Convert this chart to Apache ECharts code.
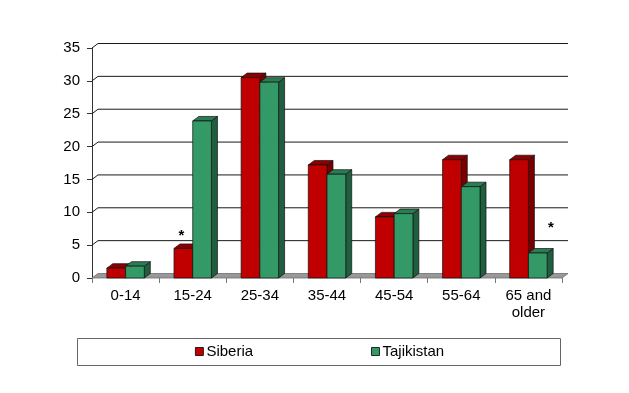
<!DOCTYPE html>
<html>
<head>
<meta charset="utf-8">
<script src="https://cdn.jsdelivr.net/npm/echarts@6/dist/echarts.min.js"></script>
<style>
html,body{margin:0;padding:0;background:#fff;}
#chart{width:629px;height:393px;}
</style>
</head>
<body>
<div id="chart"></div>
<script>
const categories = ['0-14', '15-24', '25-34', '35-44', '45-54', '55-64', '65 and\nolder'];
const siberia = [1.5, 4.5, 30.5, 17.2, 9.3, 18, 18];
const tajikistan = [1.8, 23.9, 29.8, 15.8, 9.8, 13.9, 3.8];
const siberiaNotes = ['', '*', '', '', '', '', ''];
const tajikistanNotes = ['', '', '', '', '', '', '*'];
const yTicks = [0, 5, 10, 15, 20, 25, 30, 35];
const seriesNames = ['Siberia', 'Tajikistan'];

const DX = 6, DY = 4.5;
const FONT = '"Liberation Sans", Arial, sans-serif';

function barRenderer(side, colors, notes, noteOff) {
  return function (params, api) {
    const i = api.value(0), v = api.value(1);
    const top = api.coord([i, v]);
    const base = api.coord([i, 0]);
    const band = api.size([1, 0])[0];
    const w = band * 0.279;
    const xl = side === 0 ? top[0] - w : top[0];
    const xr = xl + w;
    const yt = top[1], yb = base[1];
    const ls = {stroke: '#111', lineWidth: 0.7, lineJoin: 'round'};
    const children = [
      {type: 'polygon', shape: {points: [[xr, yt], [xr + DX, yt - DY], [xr + DX, yb - DY], [xr, yb]]},
        style: Object.assign({fill: colors.side}, ls)},
      {type: 'polygon', shape: {points: [[xl, yt], [xr, yt], [xr + DX, yt - DY], [xl + DX, yt - DY]]},
        style: Object.assign({fill: colors.top}, ls)},
      {type: 'rect', shape: {x: xl, y: yt, width: w, height: yb - yt},
        style: Object.assign({fill: colors.front}, ls)}
    ];
    const note = notes[params.dataIndex];
    if (note) {
      children.push({type: 'text', x: xl + w / 2 + noteOff[0], y: yt - noteOff[1],
        style: {text: note, fill: '#000', font: 'bold 15px ' + FONT, align: 'center', verticalAlign: 'middle'}});
    }
    return {type: 'group', children: children};
  };
}

function wallRenderer(params, api) {
  const v = api.value(1);
  const cs = params.coordSys;
  const x0 = cs.x, x1 = cs.x + cs.width;
  const y = api.coord([0, v])[1];
  if (v === 0) {
    return {type: 'polygon', shape: {points: [[x0, y], [x1, y], [x1 + DX, y - DY], [x0 + DX, y - DY]]},
      style: {fill: '#999999', stroke: '#6f6f6f', lineWidth: 0.8}};
  }
  return {type: 'polyline', shape: {points: [[x0, y], [x0 + DX, y - DY], [x1 + DX, y - DY]]},
    style: {fill: null, stroke: '#1a1a1a', lineWidth: 1}};
}

const chart = echarts.init(document.getElementById('chart'), null, {renderer: 'canvas'});
chart.setOption({
  animation: false,
  backgroundColor: '#ffffff',
  textStyle: {fontFamily: FONT},
  grid: {left: 92, right: 67, top: 48, bottom: 115, containLabel: false},
  xAxis: {
    type: 'category', data: categories, boundaryGap: true,
    axisLine: {show: false},
    axisTick: {show: true, alignWithLabel: false, length: 5, lineStyle: {color: '#777', width: 1}},
    axisLabel: {color: '#000', fontSize: 15, fontFamily: FONT, margin: 9, lineHeight: 17, interval: 0}
  },
  yAxis: {
    type: 'value', min: 0, max: 35, interval: 5,
    axisLine: {show: true, lineStyle: {color: '#333', width: 1}},
    axisTick: {show: true, length: 5, lineStyle: {color: '#333'}},
    axisLabel: {color: '#000', fontSize: 15, fontFamily: FONT, margin: 12},
    splitLine: {show: false}
  },
  legend: {
    left: 195, top: 344, padding: 0, itemGap: 118, itemWidth: 8, itemHeight: 8,
    textStyle: {fontSize: 15, fontFamily: FONT, color: '#000', padding: [0, 0, 0, -2]},
    data: [
      {name: seriesNames[0], icon: 'rect', itemStyle: {color: '#C00000', borderColor: '#000', borderWidth: 0.8}},
      {name: seriesNames[1], icon: 'rect', itemStyle: {color: '#339966', borderColor: '#000', borderWidth: 0.8}}
    ]
  },
  graphic: [{type: 'rect', left: 77, top: 338, shape: {x: 0.5, y: 0.5, width: 483, height: 27},
    style: {fill: '#fff', stroke: '#666', lineWidth: 1}, z: -1}],
  series: [
    {type: 'custom', name: 'walls', clip: false, z: 1, silent: true,
      data: yTicks.map(v => [0, v]), encode: {x: 0, y: 1}, renderItem: wallRenderer},
    {type: 'custom', name: seriesNames[0], clip: false, z: 2, itemStyle: {color: '#C00000'},
      data: siberia.map((v, i) => [i, v]), encode: {x: 0, y: 1},
      renderItem: barRenderer(0, {front: '#C00000', top: '#8E0000', side: '#7A0000'}, siberiaNotes, [-2, 13])},
    {type: 'custom', name: seriesNames[1], clip: false, z: 2, itemStyle: {color: '#339966'},
      data: tajikistan.map((v, i) => [i, v]), encode: {x: 0, y: 1},
      renderItem: barRenderer(1, {front: '#339966', top: '#2A7D53', side: '#1F5E3E'}, tajikistanNotes, [13, 25])}
  ]
});
</script>
</body>
</html>
